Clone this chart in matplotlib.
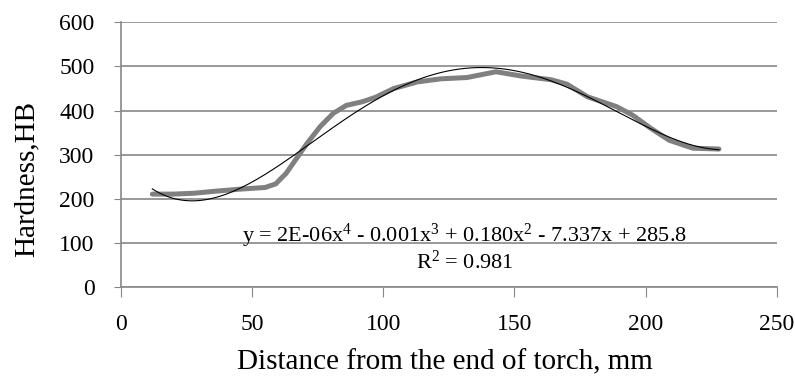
import numpy as np
import matplotlib.pyplot as plt

plt.rcParams['font.family'] = ['Liberation Serif', 'DejaVu Serif']
plt.rcParams['mathtext.fontset'] = 'custom'
plt.rcParams['mathtext.rm'] = 'Liberation Serif'
plt.rcParams['mathtext.it'] = 'Liberation Serif:italic'

# hardness profile
dist = [12, 20, 28, 35, 45, 55, 59, 63, 67, 71, 76, 81, 86, 92, 97, 104,
        113, 122, 132, 143, 153, 164, 170, 178, 189, 195, 202, 209, 218, 228]
hb = [211, 211, 213, 217, 222, 226, 234, 258, 292, 326, 364, 394, 412, 420,
      430, 450, 465, 472, 475, 488, 478, 470, 460, 431, 409, 390, 360, 333,
      315, 313]

eq_text = 'y = 2E-06x$^4$ - 0.001x$^3$ + 0.180x$^2$ - 7.337x + 285.8'
r2_text = 'R$^2$ = 0.981'

dist = np.array(dist, dtype=float)
hb = np.array(hb, dtype=float)

# 4th order trendline (like excel)
coef = np.polyfit(dist, hb, 4)
xf = np.linspace(dist.min(), dist.max(), 300)
yf = np.polyval(coef, xf)

fig = plt.figure(figsize=(7.95, 3.78), dpi=100)
ax = fig.add_axes([0.152, 0.240, 0.825, 0.701])

ax.plot(dist, hb, color='#808080', lw=3.6, solid_joinstyle='round',
        solid_capstyle='round', zorder=3)
ax.plot(xf, yf, color='black', lw=0.8, zorder=4)

ax.set_xlim(0, 250)
ax.set_ylim(0, 600)
ax.set_xticks(np.arange(0, 251, 50))
ax.set_yticks(np.arange(0, 601, 100))
ax.grid(True, axis='y', color='#888888', lw=1.2)
ax.set_axisbelow(True)
for s in ['top', 'right']:
    ax.spines[s].set_visible(False)
for s in ['left', 'bottom']:
    ax.spines[s].set_color('#888888')
    ax.spines[s].set_linewidth(1.2)
ax.tick_params(axis='y', direction='out', length=5, color='#888888',
               labelsize=17, pad=14)
ax.tick_params(axis='x', direction='out', length=7, color='#888888',
               labelsize=17, pad=12)

ax.text(131, 116, eq_text, ha='center', va='center', fontsize=16)
ax.text(131, 56, r2_text, ha='center', va='center', fontsize=16)

fig.text(0.559, 0.042, 'Distance from the end of torch, mm', ha='center',
         va='center', fontsize=21)
fig.text(0.034, 0.527, 'Hardness,HB', ha='center', va='center',
         rotation=90, fontsize=21)

fig.savefig('out.png', dpi=100)
